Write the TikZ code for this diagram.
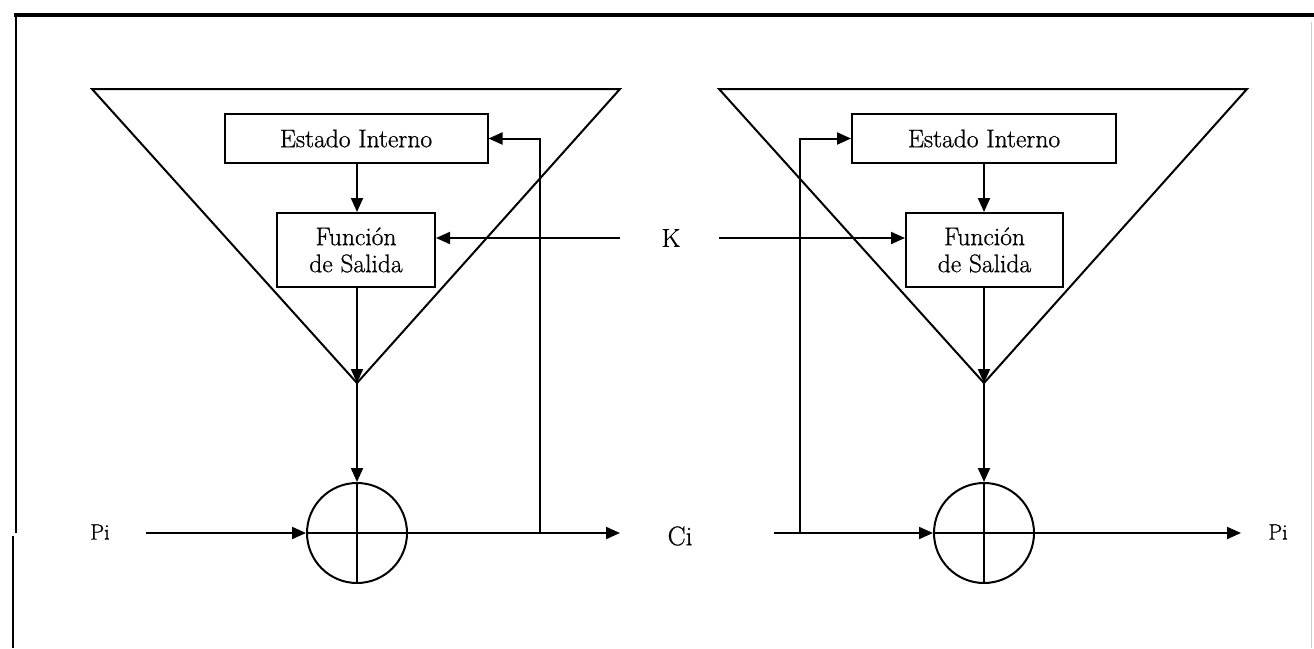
\documentclass[tikz,border=0pt]{standalone}
\usepackage{fontspec}
\newfontfamily\hv{Latin Modern Roman}[FakeBold=0.8]
\usetikzlibrary{arrows.meta}
\begin{document}
\begin{tikzpicture}[x=1pt,y=-1pt,
  ln/.style={line width=2pt},
  arr/.style={ln,-{Triangle[length=14pt,width=12pt]}},
  boxn/.style={draw,line width=2pt,inner sep=0pt,align=center,font=\hv\fontsize{25.5}{27}\selectfont},
  sumn/.style={draw,circle,line width=2pt,minimum size=100pt,inner sep=0pt},
  lbl/.style={inner sep=0pt}]
\useasboundingbox (0,0) rectangle (1314,648);
% frame
\draw[line width=3.2pt] (14,15) -- (1314,15);
\draw[line width=2pt] (16,15) -- (16,533);
\draw[line width=2pt] (13,536) -- (13,648);
\draw[black!20,line width=1pt] (1311,22) -- (1311,648);
% ---------- left unit ----------
\coordinate (tl1) at (92,89);
\coordinate (tr1) at (620,89);
\coordinate (ap1) at (357,383);
\draw[ln] (tl1) -- (tr1) -- (ap1) -- cycle;
\node[boxn,minimum width=263pt,minimum height=49pt] (e1) at (356,138.5) {Estado Interno};
\node[boxn,minimum width=158pt,minimum height=74pt] (f1) at (356,250) {Función\\de Salida};
\node[sumn] (c1) at (357,533) {};
\draw[ln] (c1.north) -- (c1.south);
\draw[ln] (c1.west) -- (c1.east);
\draw[arr] (e1.south -| ap1) -- (f1.north -| ap1);
\draw[arr] (f1.south -| ap1) -- (ap1);
\draw[arr] (ap1) -- (c1.north);
\node[lbl,font=\hv\fontsize{22}{24}\selectfont] (pi1) at (100,532) {Pi};
\coordinate (pin1) at (146,533);
\draw[arr] (pin1) -- (c1.west);
\coordinate (out1) at (620,533);
\draw[arr] (c1.east) -- (out1);
\coordinate (fb1) at (540,533);
\draw[arr] (fb1) |- (e1.east);
\coordinate (k1) at (620,238);
\draw[arr] (k1) -- (k1 -| f1.east);
% ---------- middle labels ----------
\node[lbl,font=\hv\fontsize{26}{28}\selectfont] (k) at (671,238) {K};
\node[lbl,font=\hv\fontsize{27}{30}\selectfont] (ci) at (680,536) {Ci};
% ---------- right unit ----------
\coordinate (tl2) at (719,89);
\coordinate (tr2) at (1247,89);
\coordinate (ap2) at (984,383);
\draw[ln] (tl2) -- (tr2) -- (ap2) -- cycle;
\node[boxn,minimum width=264pt,minimum height=49pt] (e2) at (984,138.5) {Estado Interno};
\node[boxn,minimum width=157pt,minimum height=74pt] (f2) at (984.5,250) {Función\\de Salida};
\node[sumn] (c2) at (984,533) {};
\draw[ln] (c2.north) -- (c2.south);
\draw[ln] (c2.west) -- (c2.east);
\draw[arr] (e2.south -| ap2) -- (f2.north -| ap2);
\draw[arr] (f2.south -| ap2) -- (ap2);
\draw[arr] (ap2) -- (c2.north);
\coordinate (k2) at (719,238);
\draw[arr] (k2) -- (k2 -| f2.west);
\coordinate (cin2) at (774,533);
\draw[arr] (cin2) -- (c2.west);
\coordinate (fb2) at (800,533);
\draw[arr] (fb2) |- (e2.west);
\coordinate (out2) at (1241,533);
\draw[arr] (c2.east) -- (out2);
\node[lbl,font=\hv\fontsize{22}{24}\selectfont] (pi2) at (1278,532) {Pi};
\end{tikzpicture}
\end{document}
